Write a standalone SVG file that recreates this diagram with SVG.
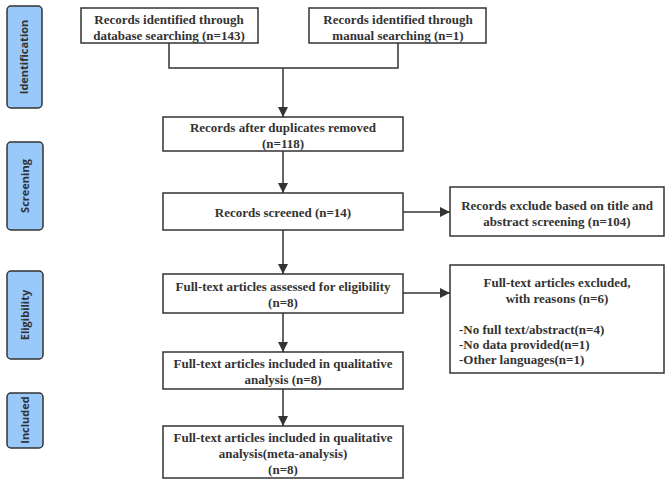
<svg xmlns="http://www.w3.org/2000/svg" width="669" height="487" viewBox="0 0 669 487">
<style>
.box{fill:#fff;stroke:#333;stroke-width:1.5}
.side{fill:#99c9fb;stroke:#333;stroke-width:1.5}
.t{font-family:"Liberation Serif","Times New Roman",serif;font-weight:bold;font-size:13px;fill:#333;text-anchor:middle}
.tl{text-anchor:start}
.s{font-family:"Open Sans","DejaVu Sans",sans-serif;font-weight:bold;font-size:11px;fill:#333;text-anchor:middle}
.c{fill:none;stroke:#333;stroke-width:1.5}
</style>
<defs>
<marker id="ah" viewBox="0 0 10 10" refX="10" refY="5" markerWidth="10" markerHeight="10" markerUnits="userSpaceOnUse" orient="auto">
<path d="M0,0 L10,5 L0,10 z" fill="#333"/>
</marker>
</defs>
<rect width="669" height="487" fill="#fff"/>
<g id="side-identification"><rect class="side" x="7" y="6" width="35" height="102" rx="4"/><text class="s" transform="translate(28,57) rotate(-90)">Identification</text></g>
<g id="side-screening"><rect class="side" x="7" y="142" width="36" height="88" rx="4"/><text class="s" transform="translate(29,186) rotate(-90)">Screening</text></g>
<g id="side-eligibility"><rect class="side" x="7" y="271" width="36" height="88" rx="4"/><text class="s" transform="translate(29,315) rotate(-90)">Eligibility</text></g>
<g id="side-included"><rect class="side" x="7" y="393" width="36" height="55" rx="4"/><text class="s" transform="translate(29,420) rotate(-90)">Included</text></g>
<g id="connectors">
<path class="c" d="M169,43 V68 H398 V43"/>
<path class="c" d="M283,68 V117" marker-end="url(#ah)"/>
<path class="c" d="M283,151 V193" marker-end="url(#ah)"/>
<path class="c" d="M283,230 V274" marker-end="url(#ah)"/>
<path class="c" d="M283,313 V352" marker-end="url(#ah)"/>
<path class="c" d="M283,389 V426" marker-end="url(#ah)"/>
<path class="c" d="M403,212 H450" marker-end="url(#ah)"/>
<path class="c" d="M403,293 H450" marker-end="url(#ah)"/>
</g>
<g id="db"><rect class="box" x="81" y="8" width="177" height="35"/><text class="t" x="169" y="24">Records identified through</text><text class="t" x="169" y="40">database searching (n=143)</text></g>
<g id="manual"><rect class="box" x="309" y="8" width="177" height="35"/><text class="t" x="398" y="24">Records identified through</text><text class="t" x="398" y="40">manual searching (n=1)</text></g>
<g id="dup"><rect class="box" x="163" y="117" width="240" height="34"/><text class="t" x="283" y="132">Records after duplicates removed</text><text class="t" x="283" y="148">(n=118)</text></g>
<g id="screened"><rect class="box" x="163" y="193" width="240" height="37"/><text class="t" x="283" y="217">Records screened (n=14)</text></g>
<g id="assessed"><rect class="box" x="163" y="274" width="240" height="39"/><text class="t" x="283" y="291">Full-text articles assessed for eligibility</text><text class="t" x="283" y="307">(n=8)</text></g>
<g id="qual"><rect class="box" x="163" y="352" width="240" height="37"/><text class="t" x="283" y="368">Full-text articles included in qualitative</text><text class="t" x="283" y="384">analysis (n=8)</text></g>
<g id="meta"><rect class="box" x="163" y="426" width="240" height="52"/><text class="t" x="283" y="442">Full-text articles included in qualitative</text><text class="t" x="283" y="458">analysis(meta-analysis)</text><text class="t" x="283" y="474">(n=8)</text></g>
<g id="excl1"><rect class="box" x="450" y="187" width="214" height="49"/><text class="t" x="557" y="210">Records exclude based on title and</text><text class="t" x="557" y="226">abstract screening (n=104)</text></g>
<g id="excl2"><rect class="box" x="450" y="265" width="214" height="108"/><text class="t" x="557" y="287">Full-text articles excluded,</text><text class="t" x="557" y="303">with reasons (n=6)</text><text class="t tl" x="459" y="334">-No full text/abstract(n=4)</text><text class="t tl" x="459" y="349">-No data provided(n=1)</text><text class="t tl" x="459" y="364">-Other languages(n=1)</text></g>
</svg>
